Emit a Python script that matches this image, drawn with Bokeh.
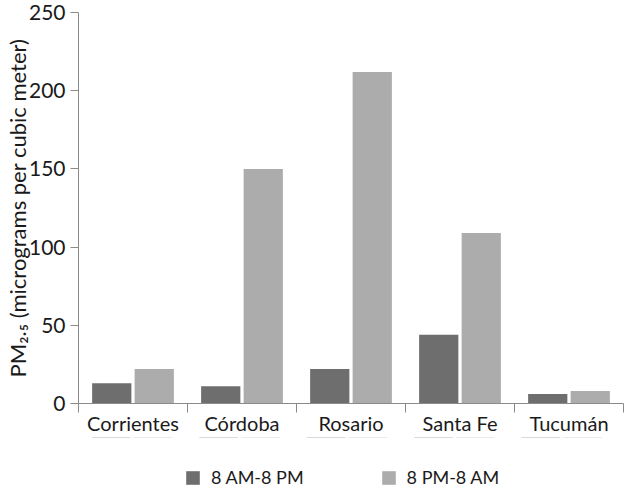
from bokeh.plotting import figure
from bokeh.layouts import column
from bokeh.models import (ColumnDataSource, FixedTicker, Legend, LegendItem, Range1d)
from bokeh.embed import file_html
from bokeh.resources import INLINE

cities = ["Corrientes", "Córdoba", "Rosario", "Santa Fe", "Tucumán"]
day = [13, 11, 22, 44, 6]        # 8 AM-8 PM
night = [22, 150, 212, 109, 8]   # 8 PM-8 AM
series_labels = ["8 AM-8 PM", "8 PM-8 AM"]
y_ticks = [0, 50, 100, 150, 200, 250]

FONT = "Lato"
DARK = "#6e6e6e"
LIGHT = "#acacac"
AXIS = "#8a8a8a"
TXT = "#1a1a1a"

idx = list(range(len(cities)))
centers = [i + 0.5 for i in idx]
src = ColumnDataSource(dict(
    xd=[c - 0.195 for c in centers],
    xn=[c + 0.195 for c in centers],
    day=day, night=night))

p = figure(frame_width=545, frame_height=391, output_backend="svg", toolbar_location=None,
           x_range=Range1d(0, len(cities)), y_range=Range1d(0, 250),
           min_border_left=70, min_border_right=2, min_border_top=12,
           min_border_bottom=0)
p.outline_line_color = None
p.grid.visible = False
p.background_fill_color = "white"
p.border_fill_color = "white"

p.vbar(x="xd", top="day", width=0.36, source=src, fill_color=DARK, line_color=None)
p.vbar(x="xn", top="night", width=0.36, source=src, fill_color=LIGHT, line_color=None)

# x axis: boundary ticks (minor), labels at centers
xa = p.xaxis[0]
xa.ticker = FixedTicker(ticks=centers, minor_ticks=[float(i) for i in range(len(cities) + 1)])
xa.major_label_overrides = {c: name for c, name in zip(centers, cities)}
xa.major_tick_out = 0
xa.major_tick_in = 0
xa.minor_tick_out = 9
xa.minor_tick_in = 0
xa.minor_tick_line_color = AXIS
xa.axis_line_color = AXIS
xa.major_label_text_font = FONT
xa.major_label_text_font_size = "20px"
xa.major_label_text_color = TXT
xa.major_label_standoff = -2

ya = p.yaxis[0]
ya.ticker = FixedTicker(ticks=y_ticks, minor_ticks=[])
ya.major_tick_out = 8
ya.major_tick_in = 0
ya.major_tick_line_color = AXIS
ya.axis_line_color = AXIS
ya.major_label_text_font = FONT
ya.major_label_text_font_size = "21px"
ya.major_label_text_color = TXT
ya.major_label_standoff = 5
ya.axis_label = "PM\u2082.\u2085 (micrograms per cubic meter)"
ya.axis_label_text_font = FONT
ya.axis_label_text_font_size = "22px"
ya.axis_label_text_font_style = "normal"
ya.axis_label_text_color = TXT
ya.axis_label_standoff = -5

# legend strip below the chart (same data, bars kept out of this strip's view)
lp = figure(width=617, height=50, output_backend="svg", toolbar_location=None,
            x_range=Range1d(0, len(cities)), y_range=Range1d(-2, -1),
            min_border=0)
lp.axis.visible = False
lp.grid.visible = False
lp.outline_line_color = None
lr1 = lp.vbar(x="xd", top="day", width=0.36, source=src, fill_color=DARK, line_color=None)
lr2 = lp.vbar(x="xn", top="night", width=0.36, source=src, fill_color=LIGHT, line_color=None)
legend = Legend(items=[LegendItem(label=series_labels[0], renderers=[lr1]),
                       LegendItem(label=series_labels[1], renderers=[lr2])],
                orientation="horizontal", location=(106, -1),
                glyph_width=17, glyph_height=17, label_standoff=10, spacing=76,
                padding=0, margin=0, border_line_color=None,
                background_fill_alpha=0,
                label_text_font=FONT, label_text_font_size="18px",
                label_text_color=TXT)
lp.add_layout(legend)

layout = column(p, lp, spacing=0)
open("out.html", "w").write(file_html(layout, INLINE))
